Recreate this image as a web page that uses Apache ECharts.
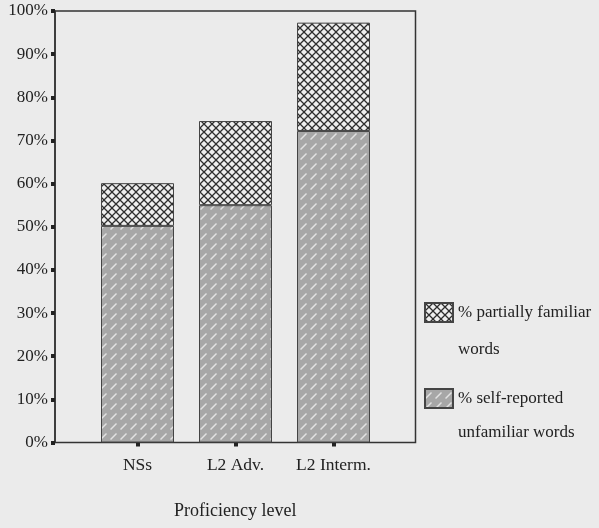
<!DOCTYPE html>
<html>
<head>
<meta charset="utf-8">
<script src="https://cdn.jsdelivr.net/npm/echarts@6/dist/echarts.min.js"></script>
<style>
  html, body { margin: 0; padding: 0; background: #ebebeb; }
  #chart { width: 599px; height: 528px; }
</style>
</head>
<body>
<div id="chart"></div>
<script>
const categories = ['NSs', 'L2 Adv.', 'L2 Interm.']
const unfamiliar = [50.2, 55.0, 72.2]
const partial = [9.9, 19.5, 25.1]
const yTicks = { min: 0, max: 100, interval: 10 }

const FONT = 'Liberation Serif'

// hatch fill for the lower bars
const makeHatch = () => {
  const c = document.createElement('canvas')
  c.width = 10; c.height = 10
  const ctx = c.getContext('2d')
  ctx.fillStyle = '#a7a7a7'
  ctx.fillRect(0, 0, 10, 10)
  ctx.strokeStyle = '#e2e2e2'
  ctx.lineWidth = 1.5
  ctx.beginPath()
  ctx.moveTo(0.5, 9.5); ctx.lineTo(6.5, 3.5)
  ctx.stroke()
  return c
}

// diamond cross-hatch for the upper bars
const makeCross = () => {
  const c = document.createElement('canvas')
  c.width = 8; c.height = 8
  const ctx = c.getContext('2d')
  ctx.fillStyle = '#efefef'
  ctx.fillRect(0, 0, 8, 8)
  ctx.strokeStyle = '#2e2e2e'
  ctx.lineWidth = 1.3
  ctx.beginPath()
  ctx.moveTo(0, 0); ctx.lineTo(8, 8)
  ctx.moveTo(0, 8); ctx.lineTo(8, 0)
  ctx.stroke()
  return c
}

const chart = echarts.init(document.getElementById('chart'))

const option = {
  backgroundColor: '#ebebeb',
  animation: false,
  textStyle: { fontFamily: FONT, color: '#222' },
  grid: [
    { left: 55, right: 183.5, top: 11, bottom: 85.5, show: true, borderColor: '#333', borderWidth: 1.5, backgroundColor: 'transparent' },
    { left: 88.5, right: 216.5, top: 11, bottom: 85.5 }
  ],
  xAxis: [
    { gridIndex: 0, type: 'value', show: false, min: 0, max: 1 },
    {
      gridIndex: 1,
      type: 'category',
      data: categories,
      axisLine: { show: false },
      axisTick: { show: true, alignWithLabel: true, length: 4, lineStyle: { width: 4, color: '#222' } },
      axisLabel: { fontFamily: FONT, fontSize: 17.5, color: '#222', margin: 14 }
    }
  ],
  yAxis: [
    {
      gridIndex: 0,
      type: 'value',
      min: yTicks.min, max: yTicks.max, interval: yTicks.interval,
      axisLine: { show: true, lineStyle: { color: '#333', width: 1.5 } },
      axisTick: { show: true, length: 4, lineStyle: { width: 4, color: '#222' } },
      splitLine: { show: false },
      axisLabel: { formatter: '{value}%', fontFamily: FONT, fontSize: 17, color: '#222', margin: 7 }
    },
    { gridIndex: 1, type: 'value', min: yTicks.min, max: yTicks.max, show: false }
  ],
  legend: {
    orient: 'vertical',
    left: 424,
    top: 302,
    padding: 0,
    icon: 'rect',
    itemWidth: 28,
    itemHeight: 19,
    itemGap: 65,
    data: ['% partially familiar words', '% self-reported unfamiliar words'],
    formatter: name => name === '% partially familiar words' ? '% partially familiar' : '% self-reported',
    textStyle: { fontFamily: FONT, fontSize: 17, color: '#222' }
  },
  graphic: [
    { type: 'text', left: 458, top: 341, style: { text: 'words', font: '17px "Liberation Serif"', fill: '#222' } },
    { type: 'text', left: 458, top: 424, style: { text: 'unfamiliar words', font: '17px "Liberation Serif"', fill: '#222' } },
    { type: 'text', left: 174, top: 502, style: { text: 'Proficiency level', font: '18px "Liberation Serif"', fill: '#222' } }
  ],
  series: [
    {
      name: '% self-reported unfamiliar words',
      type: 'bar',
      stack: 'total',
      xAxisIndex: 1, yAxisIndex: 1,
      barWidth: 73,
      data: unfamiliar,
      itemStyle: { color: { image: makeHatch(), repeat: 'repeat' }, borderColor: '#444', borderWidth: 1 }
    },
    {
      name: '% partially familiar words',
      type: 'bar',
      stack: 'total',
      xAxisIndex: 1, yAxisIndex: 1,
      barWidth: 73,
      data: partial,
      itemStyle: { color: { image: makeCross(), repeat: 'repeat' }, borderColor: '#444', borderWidth: 1 }
    }
  ]
}
chart.setOption(option)
</script>
</body>
</html>
